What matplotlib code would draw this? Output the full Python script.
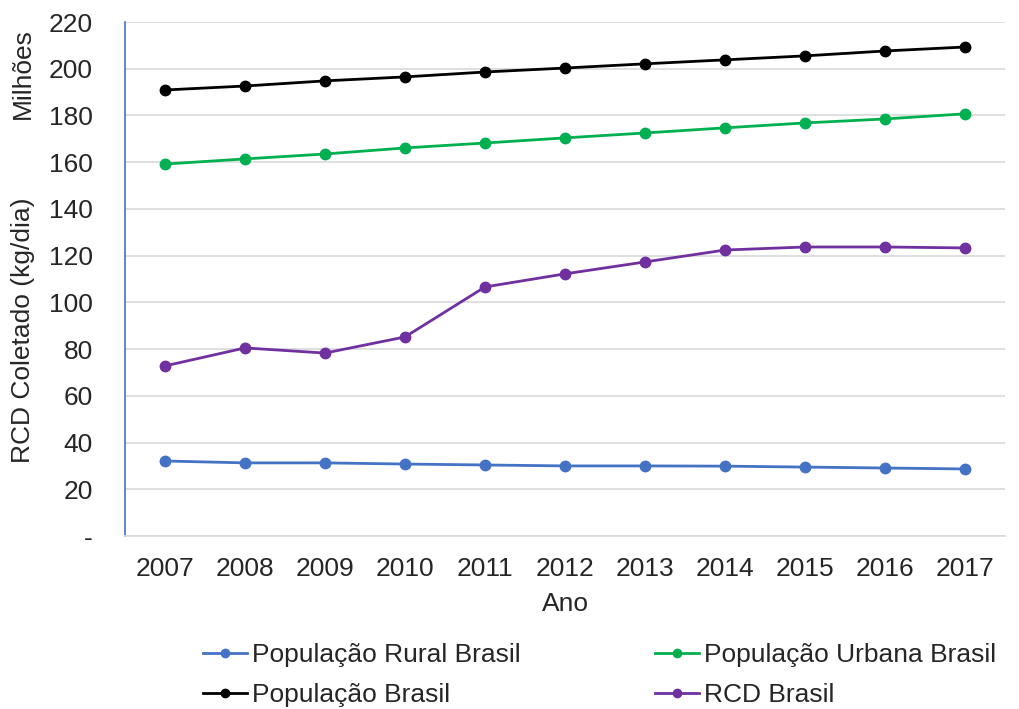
import matplotlib.pyplot as plt

plt.rcParams['font.family'] = ['Liberation Sans', 'DejaVu Sans']

anos = ['2007', '2008', '2009', '2010', '2011', '2012', '2013', '2014', '2015', '2016', '2017']
pop_rural = [32.1, 31.3, 31.3, 30.8, 30.4, 30.0, 30.0, 29.9, 29.5, 29.1, 28.7]
pop_urbana = [159.2, 161.4, 163.5, 166.1, 168.2, 170.4, 172.5, 174.7, 176.8, 178.5, 180.7]
pop_brasil = [190.9, 192.6, 194.8, 196.5, 198.6, 200.3, 202.1, 203.8, 205.5, 207.6, 209.3]
rcd_brasil = [72.8, 80.5, 78.3, 85.2, 106.6, 112.2, 117.3, 122.4, 123.7, 123.7, 123.3]

series = [
    ('População Rural Brasil', pop_rural, '#4472C4'),
    ('População Urbana Brasil', pop_urbana, '#00B050'),
    ('População Brasil', pop_brasil, '#000000'),
    ('RCD Brasil', rcd_brasil, '#7030A0'),
]

fig = plt.figure(figsize=(10.19, 7.09), dpi=100)
ax = fig.add_axes([125 / 1019, 1 - 536 / 709, 880 / 1019, 514 / 709])

x = range(len(anos))
linhas = {}
for nome, vals, cor in series:
    linhas[nome], = ax.plot(x, vals, color=cor, lw=2, marker='o', markersize=7.5,
                            label=nome, zorder=3)

ax.set_xlim(-0.5, len(anos) - 0.5)
ax.set_ylim(0, 220)
ax.set_xticks(list(x))
ax.set_xticklabels(anos)
yt = list(range(0, 221, 20))
ax.set_yticks(yt)
ax.set_yticklabels(['-'] + [str(v) for v in yt[1:]])
ax.tick_params(axis='both', length=0, labelsize=19, colors='#262626')
ax.tick_params(axis='y', pad=23)
ax.tick_params(axis='x', pad=15)
ax.grid(axis='y', color='#d9d9d9', lw=1.2)
ax.set_axisbelow(True)
for s in ['top', 'right']:
    ax.spines[s].set_visible(False)
ax.spines['bottom'].set_color('#d9d9d9')
ax.spines['bottom'].set_linewidth(1.2)
ax.spines['left'].set_color('#4472C4')
ax.spines['left'].set_linewidth(1.2)

ax.set_xlabel('Ano', fontsize=19, color='#262626', labelpad=8)
fig.text(23 / 1019, 1 - 330 / 709, 'RCD Coletado (kg/dia)', rotation=90,
         ha='center', va='center', fontsize=19, color='#262626')
fig.text(23 / 1019, 1 - 74 / 709, 'Milhões', rotation=90,
         ha='center', va='center', fontsize=19, color='#262626')

# matplotlib fills legend column-wise, reorder so rows match the reference
ordem = ['População Rural Brasil', 'População Brasil', 'População Urbana Brasil', 'RCD Brasil']
leg = fig.legend([linhas[n] for n in ordem], ordem,
                 loc='upper left', bbox_to_anchor=(203 / 1019, 1 - 643 / 709), ncol=2,
                 frameon=False, fontsize=19, handlelength=1.65, handletextpad=0.2,
                 columnspacing=5.1, labelspacing=0.62, borderpad=0, borderaxespad=0,
                 labelcolor='#262626', markerscale=0.8)

fig.savefig('out.png', dpi=100)
